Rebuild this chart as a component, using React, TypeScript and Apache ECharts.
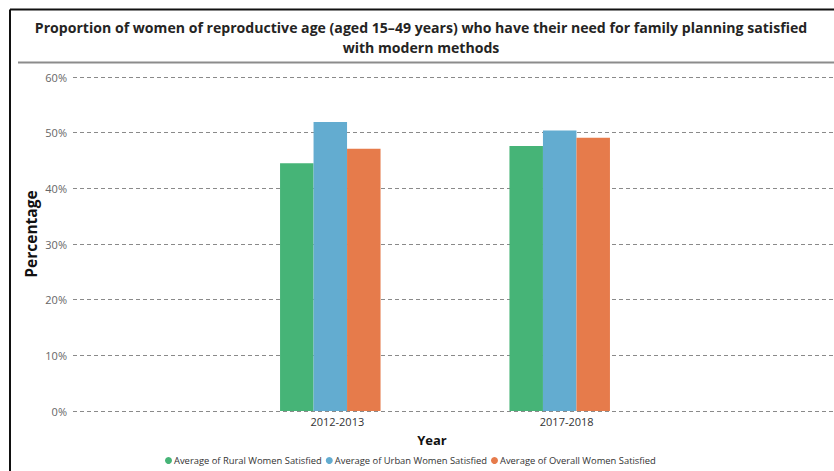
import React, { useEffect, useRef } from "react";
import * as echarts from "echarts";

const years = ["2012-2013", "2017-2018"];
const ruralSatisfied = [44.5, 47.6];
const urbanSatisfied = [51.9, 50.4];
const overallSatisfied = [47.1, 49.1];
const seriesNames = [
  "Average of Rural Women Satisfied",
  "Average of Urban Women Satisfied",
  "Average of Overall Women Satisfied",
];
const seriesColors = ["#46B477", "#63ACD0", "#E67B4B"];
const titleLines = [
  "Proportion of women of reproductive age (aged 15–49 years) who have their need for family planning satisfied",
  "with modern methods",
];

const FONT = "'Open Sans', 'Noto Sans', sans-serif";

export default function App() {
  const ref = useRef<HTMLDivElement>(null);

  useEffect(() => {
    if (!ref.current) return;
    const chart = echarts.init(ref.current, undefined, { renderer: "svg" });
    const values = [ruralSatisfied, urbanSatisfied, overallSatisfied];

    chart.setOption({
      animation: false,
      backgroundColor: "#ffffff",
      title: {
        text: titleLines.join("\n"),
        left: 416,
        top: 12,
        textAlign: "center",
        textStyle: {
          fontFamily: FONT,
          fontWeight: "bold",
          fontSize: 14.1,
          lineHeight: 20,
          color: "#252423",
        },
      },
      legend: {
        left: 160,
        top: 451,
        icon: "circle",
        itemWidth: 7,
        itemHeight: 7,
        itemGap: 4,
        textStyle: { fontFamily: FONT, fontSize: 9.4, color: "#333333", padding: [0, 0, 0, -3] },
        data: seriesNames,
      },
      grid: [
        { left: 73, right: 0, top: 77, height: 334 },
        { left: 215.6, width: 458.8, top: 77, height: 334 },
      ],
      xAxis: [
        { type: "category", gridIndex: 0, data: years, show: false },
        {
          type: "category",
          gridIndex: 1,
          data: years,
          axisLine: { show: false },
          axisTick: { show: false },
          axisLabel: {
            margin: 5,
            fontFamily: FONT,
            fontSize: 11,
            color: "#333333",
            padding: [0, 0, 0, 14],
          },
        },
      ],
      yAxis: [
        {
          type: "value",
          gridIndex: 0,
          min: 0,
          max: 60,
          interval: 10,
          axisLine: { show: false },
          axisTick: { show: false },
          axisLabel: {
            formatter: "{value}%",
            margin: 6,
            fontFamily: FONT,
            fontSize: 11,
            color: "#666666",
          },
          splitLine: { lineStyle: { color: "#8a8a8a", type: [4, 3], width: 1 } },
        },
        {
          type: "value",
          gridIndex: 1,
          min: 0,
          max: 60,
          interval: 10,
          show: false,
          splitLine: { show: false },
        },
      ],
      series: seriesNames.map((name, i) => ({
        name,
        type: "bar",
        xAxisIndex: 1,
        yAxisIndex: 1,
        data: values[i],
        barWidth: 33.5,
        barGap: "0%",
        itemStyle: { color: seriesColors[i] },
      })),
      graphic: [
        {
          type: "line",
          shape: { x1: 10, y1: 9.5, x2: 834, y2: 9.5 },
          style: { stroke: "#111111", lineWidth: 2 },
        },
        {
          type: "line",
          shape: { x1: 10, y1: 9.5, x2: 10, y2: 471 },
          style: { stroke: "#111111", lineWidth: 2 },
        },
        {
          type: "line",
          shape: { x1: 18, y1: 62.5, x2: 834, y2: 62.5 },
          style: { stroke: "#8c8c8c", lineWidth: 2 },
        },
        {
          type: "text",
          x: 31,
          y: 234,
          rotation: Math.PI / 2,
          style: {
            text: "Percentage",
            fontFamily: FONT,
            fontWeight: "bold",
            fontSize: 15.5,
            fill: "#111111",
            align: "center",
            verticalAlign: "middle",
          },
        },
        {
          type: "text",
          x: 432,
          y: 440,
          style: {
            text: "Year",
            fontFamily: FONT,
            fontWeight: "bold",
            fontSize: 13,
            fill: "#111111",
            align: "center",
            verticalAlign: "middle",
          },
        },
      ],
    });

    return () => chart.dispose();
  }, []);

  return (
    <div
      ref={ref}
      style={{ position: "fixed", left: 0, top: 0, width: 834, height: 471 }}
    />
  );
}
